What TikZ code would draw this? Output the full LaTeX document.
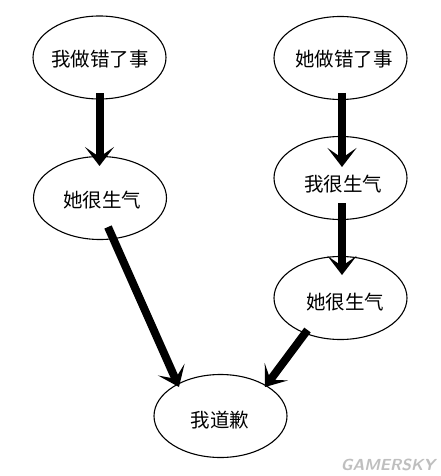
\documentclass[tikz,border=0pt]{standalone}
\usepackage{fontspec}
\newfontfamily\cjk{Noto Sans CJK SC}
\usetikzlibrary{shapes.geometric,arrows.meta,calc}
\begin{document}
\begin{tikzpicture}[x=1pt,y=-1pt,
  bubble/.style={draw=black,line width=1.1pt,ellipse,minimum width=133pt,minimum height=83pt,inner sep=0pt},
  lab/.style={font=\cjk\fontsize{19.5}{20}\selectfont,inner sep=0pt},
  arr/.style={line width=8pt,-{Stealth[length=19pt,width=29pt,inset=10pt]}}]
\useasboundingbox (0,0) rectangle (440,476);
\fill[white] (0,0) rectangle (440,476);
\node[bubble] (e1) at (99.5,57.5) {};
\node[bubble] (e2) at (340.5,58) {};
\node[bubble] (e3) at (100,198) {};
\node[bubble] (e4) at (340.5,178) {};
\node[bubble] (e5) at (340.5,298) {};
\node[bubble] (e6) at (220.5,416) {};
\node[lab] (t1) at (100,59) {我做错了事};
\node[lab] (t2) at (344,59) {她做错了事};
\node[lab] (t3) at (102,200) {她很生气};
\node[lab] (t4) at (343,184) {我很生气};
\node[lab] (t5) at (345,302) {她很生气};
\node[lab] (t6) at (220,420) {我道歉};
\draw[arr] ($(e1.center)+(0,36)$) -- ($(e3.center)+(-0.5,-32)$);
\draw[arr] ($(e2.center)+(1.5,35)$) -- ($(e4.center)+(1.5,-11)$);
\draw[arr] ($(e4.center)+(1.5,25)$) -- ($(e5.center)+(1.5,-23)$);
\draw[arr] ($(e5.center)+(-33,32)$) -- ($(e6.center)+(44.5,-29)$);
\draw[arr] ($(e3.center)+(8,29)$) -- ($(e6.center)+(-41.5,-29)$);
\node[font=\sffamily\bfseries\itshape\fontsize{16}{16}\selectfont,text=black!25,inner sep=0pt] (wm) at (388,465) {GAMERSKY};
\end{tikzpicture}
\end{document}
